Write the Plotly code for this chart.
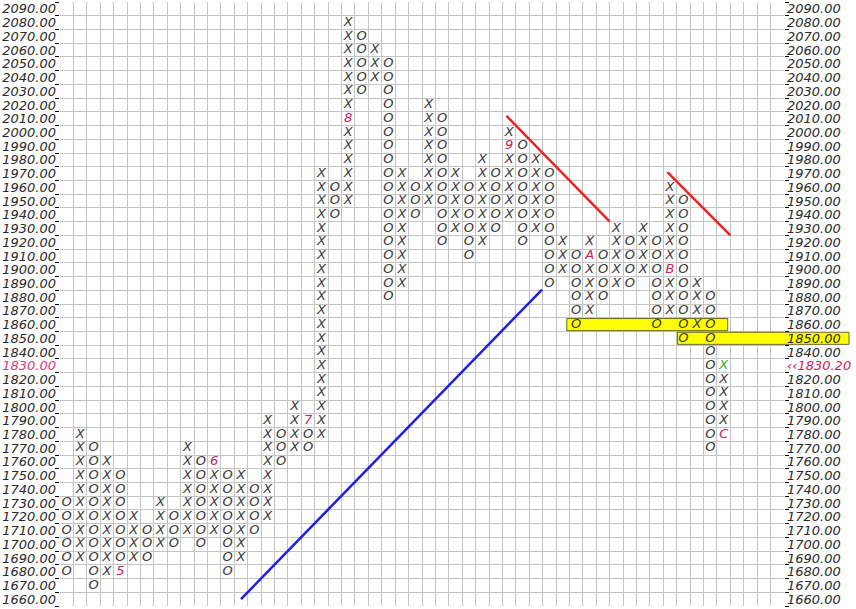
import plotly.graph_objects as go

# ---- data: point & figure columns (box size 10) ----
col_type = ['O','X','O','X','O','X','O','X','O','X',
            'O','X','O','X','O','X','O','X','O','X',
            'O','X','O','X','O','X','O','X','O','X',
            'O','X','O','X','O','X','O','X','O','X',
            'O','X','O','X','O','X','O','X','O','X']
col_high = [1730,1780,1770,1760,1750,1720,1710,1730,1720,1770,
            1760,1760,1750,1750,1740,1790,1780,1800,1790,1970,
            1960,2080,2070,2060,2050,1970,1960,2020,2010,1970,
            1960,1980,1970,2000,1990,1980,1970,1920,1910,1920,
            1910,1930,1920,1930,1920,1960,1950,1890,1880,1830]
col_low  = [1680,1690,1670,1680,1680,1690,1690,1700,1700,1710,
            1700,1710,1680,1690,1710,1720,1760,1770,1770,1780,
            1940,1950,2030,2040,1880,1890,1940,1950,1920,1930,
            1910,1920,1930,1940,1920,1930,1890,1900,1860,1870,
            1880,1890,1890,1900,1860,1870,1850,1860,1770,1780]
box_size = 10

# month / reference markers replacing a box: (column, price, label)
mark_cols   = [4, 11, 18, 21, 33, 39, 45, 49]
mark_prices = [1680, 1760, 1790, 2010, 1990, 1910, 1900, 1780]
mark_labels = ['5', '6', '7', '8', '9', 'A', 'B', 'C']
# current (live) box
live_col, live_price = 49, 1830
last_price_label = '‹‹1830.20'

# price axis
price_ticks = list(range(1660, 2100, 10))
n_cols = 54

# trend lines: (col0, price0, col1, price1)
blue_line = (13.0, 1660, 35.45, 1885.5)
red_line1 = (32.8, 2012, 40.5, 1935)
red_line2 = (44.8, 1971, 49.5, 1925)

# highlighted support levels: (price, start col, end col)
hl1 = (1860, 37.3, 49.3)
hl2 = (1850, 45.55, None)   # extends over the right price scale
hl2_right_paper = 1.0898

# ---- build boxes ----
xs, ys, ts, cs = [], [], [], []
marks = {(c, p): l for c, p, l in zip(mark_cols, mark_prices, mark_labels)}
for i, (t, hi, lo) in enumerate(zip(col_type, col_high, col_low)):
    for p in range(lo, hi + box_size, box_size):
        if (i, p) in marks:
            xs.append(i); ys.append(p); ts.append(marks[(i, p)]); cs.append('#cc2255')
        elif (i, p) == (live_col, live_price):
            xs.append(i); ys.append(p); ts.append('X'); cs.append('#33aa33')
        else:
            xs.append(i); ys.append(p); ts.append(t); cs.append('#3a3a3a')

XMIN, XMAX = -0.5, n_cols - 0.5
YMIN, YMAX = price_ticks[0] - box_size / 2, price_ticks[-1] + box_size / 2

def px_(c):
    return (c - XMIN) / (XMAX - XMIN)

def py_(v):
    return (v - YMIN) / (YMAX - YMIN)

fig = go.Figure()
fig.add_trace(go.Scatter(
    x=xs, y=ys, text=ts, mode='text',
    textfont=dict(family='DejaVu Sans', size=13, color=cs, style='italic'),
    hoverinfo='skip', showlegend=False))
# invisible trace on right axis
fig.add_trace(go.Scatter(x=[XMIN], y=[YMIN], yaxis='y2', mode='markers',
                         marker=dict(opacity=0), showlegend=False, hoverinfo='skip'))

def tick_text(v, right=False):
    if v == 1830:
        if right:
            return '<span style="color:#cc2255">%s</span>' % last_price_label
        return '<span style="color:#d8407a">%.2f</span>' % v
    return '%.2f' % v

half = 4.4
shapes = []
# highlight 1 (inside plot)
shapes.append(dict(type='rect', xref='x', yref='y', layer='between',
                   x0=hl1[1], x1=hl1[2], y0=hl1[0] - half, y1=hl1[0] + half,
                   fillcolor='#ffff00', line=dict(width=0)))
shapes.append(dict(type='rect', xref='paper', yref='paper', layer='above',
                   x0=px_(hl1[1]), x1=px_(hl1[2]), y0=py_(hl1[0] - half), y1=py_(hl1[0] + half),
                   fillcolor='rgba(0,0,0,0)', line=dict(width=1, color='#6a6a20')))
# highlight 2 (inside plot + over the right scale)
shapes.append(dict(type='rect', xref='x', yref='y', layer='between',
                   x0=hl2[1], x1=XMAX, y0=hl2[0] - half, y1=hl2[0] + half,
                   fillcolor='#ffff00', line=dict(width=0)))
shapes.append(dict(type='rect', xref='paper', yref='paper', layer='below',
                   x0=1.0, x1=hl2_right_paper, y0=py_(hl2[0] - half), y1=py_(hl2[0] + half),
                   fillcolor='#ffff00', line=dict(width=0)))
shapes.append(dict(type='rect', xref='paper', yref='paper', layer='above',
                   x0=px_(hl2[1]), x1=hl2_right_paper, y0=py_(hl2[0] - half), y1=py_(hl2[0] + half),
                   fillcolor='rgba(0,0,0,0)', line=dict(width=1, color='#6a6a20')))
# trend lines
for ln, col in [(blue_line, '#1c1cf0'), (red_line1, '#ee2222'), (red_line2, '#ee2222')]:
    shapes.append(dict(type='line', xref='x', yref='y', layer='above',
                       x0=ln[0], y0=ln[1], x1=ln[2], y1=ln[3],
                       line=dict(color=col, width=2.5)))

minor_vals = [v - box_size / 2 for v in price_ticks] + [price_ticks[-1] + box_size / 2]
axis_font = dict(family='DejaVu Sans', size=13, color='#2a2a2a', style='italic')

fig.update_layout(
    width=856, height=609,
    margin=dict(l=60, r=72, t=2, b=3),
    paper_bgcolor='white', plot_bgcolor='white',
    shapes=shapes,
    xaxis=dict(range=[XMIN, XMAX], tickmode='linear', tick0=XMIN, dtick=1,
               showgrid=True, gridcolor='#c4c4c4', gridwidth=1,
               showticklabels=False, ticks='', zeroline=False, showline=False,
               fixedrange=True),
    yaxis=dict(range=[YMIN, YMAX], tickmode='array', tickvals=price_ticks,
               ticktext=[tick_text(v) for v in price_ticks],
               tickfont=axis_font, ticks='', showgrid=False, zeroline=False,
               showline=False, ticklabelstandoff=3,
               minor=dict(tickmode='array', tickvals=minor_vals, showgrid=True,
                          gridcolor='#c4c4c4', gridwidth=1, ticks='outside',
                          ticklen=4, tickcolor='#000000', tickwidth=1)),
    yaxis2=dict(range=[YMIN, YMAX], overlaying='y', side='right',
                tickmode='array', tickvals=price_ticks,
                ticktext=[tick_text(v, right=True) for v in price_ticks],
                tickfont=axis_font, ticks='', showgrid=False, zeroline=False,
                showline=False, ticklabelstandoff=2,
                minor=dict(tickmode='array', tickvals=minor_vals, showgrid=False,
                           ticks='outside', ticklen=4, tickcolor='#000000', tickwidth=1)),
)

fig.write_html('out.html', config={'displayModeBar': False},
               post_script="document.body.style.margin='0';document.body.style.overflow='hidden';")
